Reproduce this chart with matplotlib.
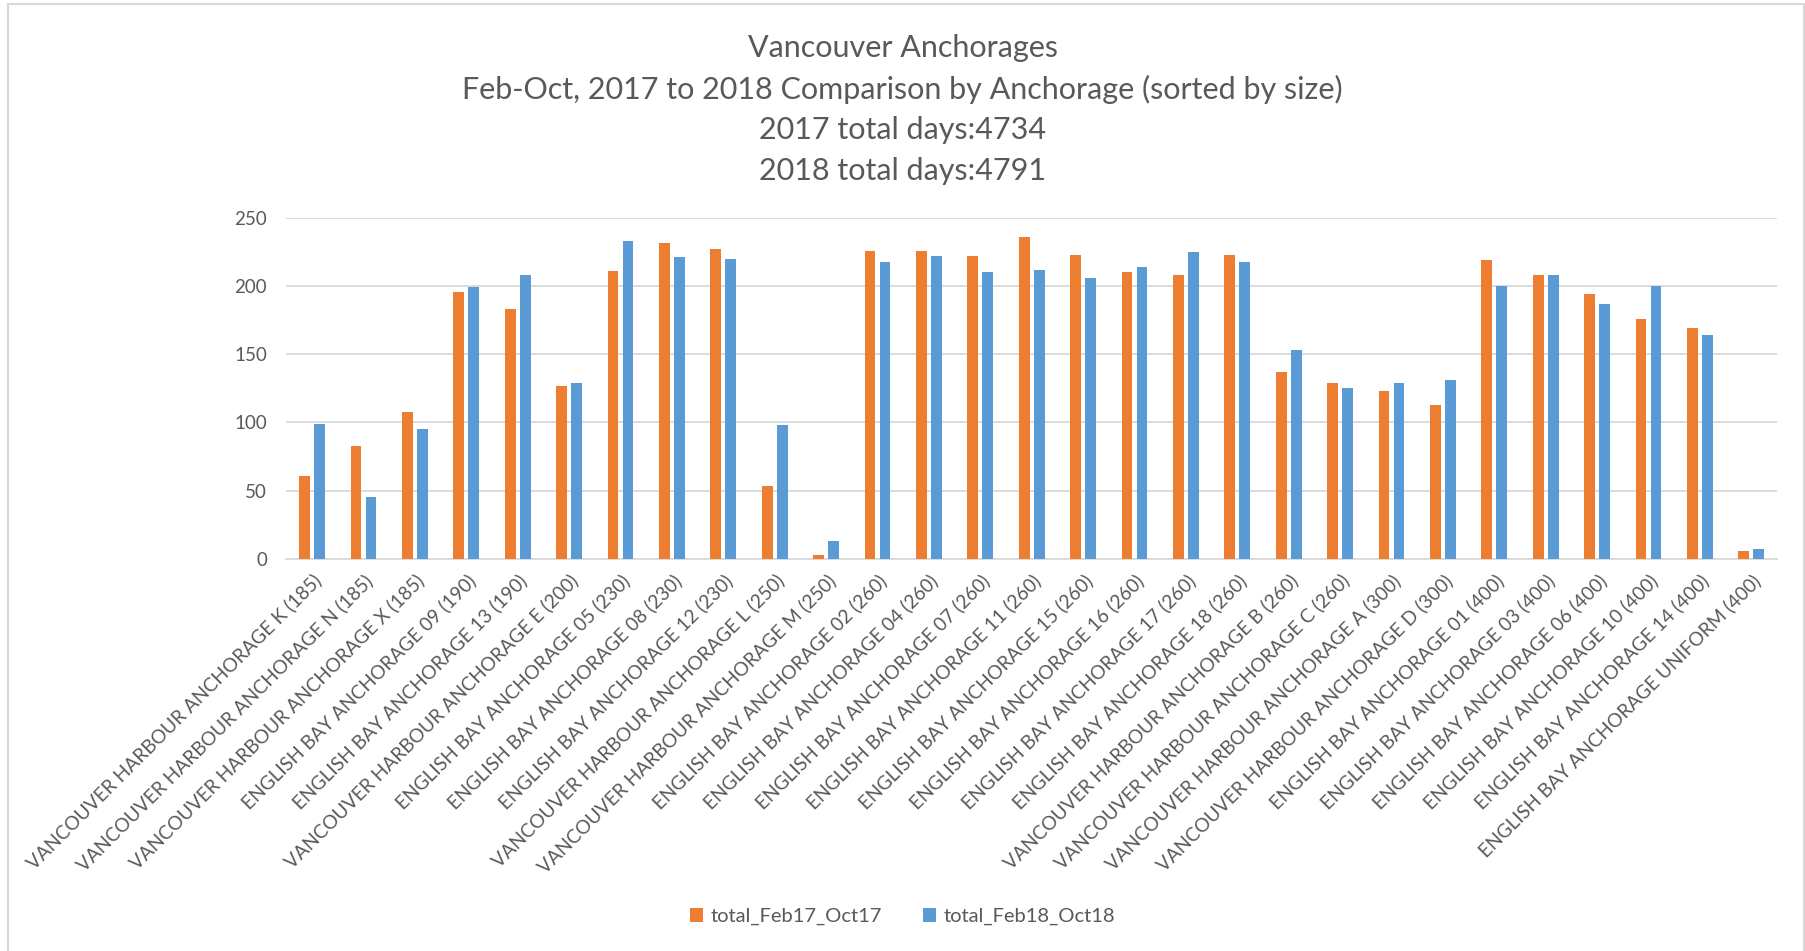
import matplotlib.pyplot as plt
import matplotlib.patches as mpatches
import numpy as np

plt.rcParams['font.family'] = ['Lato', 'DejaVu Sans']

anchorages = [
    "VANCOUVER HARBOUR ANCHORAGE K (185)", "VANCOUVER HARBOUR ANCHORAGE N (185)",
    "VANCOUVER HARBOUR ANCHORAGE X (185)", "ENGLISH BAY ANCHORAGE 09 (190)",
    "ENGLISH BAY ANCHORAGE 13 (190)", "VANCOUVER HARBOUR ANCHORAGE E (200)",
    "ENGLISH BAY ANCHORAGE 05 (230)", "ENGLISH BAY ANCHORAGE 08 (230)",
    "ENGLISH BAY ANCHORAGE 12 (230)", "VANCOUVER HARBOUR ANCHORAGE L (250)",
    "VANCOUVER HARBOUR ANCHORAGE M (250)", "ENGLISH BAY ANCHORAGE 02 (260)",
    "ENGLISH BAY ANCHORAGE 04 (260)", "ENGLISH BAY ANCHORAGE 07 (260)",
    "ENGLISH BAY ANCHORAGE 11 (260)", "ENGLISH BAY ANCHORAGE 15 (260)",
    "ENGLISH BAY ANCHORAGE 16 (260)", "ENGLISH BAY ANCHORAGE 17 (260)",
    "ENGLISH BAY ANCHORAGE 18 (260)", "VANCOUVER HARBOUR ANCHORAGE B (260)",
    "VANCOUVER HARBOUR ANCHORAGE C (260)", "VANCOUVER HARBOUR ANCHORAGE A (300)",
    "VANCOUVER HARBOUR ANCHORAGE D (300)", "ENGLISH BAY ANCHORAGE 01 (400)",
    "ENGLISH BAY ANCHORAGE 03 (400)", "ENGLISH BAY ANCHORAGE 06 (400)",
    "ENGLISH BAY ANCHORAGE 10 (400)", "ENGLISH BAY ANCHORAGE 14 (400)",
    "ENGLISH BAY ANCHORAGE UNIFORM (400)",
]
total_17 = [61, 83, 108, 196, 183, 127, 211, 232, 227, 53,
            3, 226, 226, 222, 236, 223, 210, 208, 223, 137,
            129, 123, 113, 219, 208, 194, 176, 169, 6]
total_18 = [99, 45, 95, 199, 208, 129, 233, 221, 220, 98,
            13, 218, 222, 210, 212, 206, 214, 225, 218, 153,
            125, 129, 131, 200, 208, 187, 200, 164, 7]

title_lines = ["Vancouver Anchorages",
               "Feb-Oct, 2017 to 2018 Comparison by Anchorage (sorted by size)",
               "2017 total days:4734",
               "2018 total days:4791"]

grey = "#595959"
orange = "#ED7D31"
blue = "#5B9BD5"

fig = plt.figure(figsize=(18.05, 9.51), dpi=100)
ax = fig.add_axes([0.1587, 0.4125, 0.8258, 0.3583])

x = np.arange(len(anchorages))
w = 0.21
ax.bar(x - 0.146, total_17, w, color=orange, label="total_Feb17_Oct17", zorder=3)
ax.bar(x + 0.146, total_18, w, color=blue, label="total_Feb18_Oct18", zorder=3)

ax.set_xlim(-0.5, len(anchorages) - 0.5)
ax.set_ylim(0, 250)
ax.set_yticks([0, 50, 100, 150, 200, 250])
ax.yaxis.grid(True, color="#d9d9d9", lw=1.3, zorder=0)
for s in ["top", "right", "left"]:
    ax.spines[s].set_visible(False)
ax.spines["bottom"].set_color("#d9d9d9")
ax.spines["bottom"].set_linewidth(1.3)
ax.tick_params(axis="both", length=0, colors=grey, labelsize=13.5)
ax.tick_params(axis="y", pad=14)
ax.tick_params(axis="x", pad=9)
ax.set_xticks(x)
ax.set_xticklabels(anchorages, rotation=45, ha="right", va="top",
                   rotation_mode="anchor", fontsize=13.8, color=grey)

ys = [0.950, 0.906, 0.863, 0.820]
for t, yy in zip(title_lines, ys):
    fig.text(0.5, yy, t, ha="center", va="center", fontsize=22, color=grey)

fig.legend(loc="center", bbox_to_anchor=(0.5, 0.036), ncol=2, frameon=False,
           fontsize=14.5, labelcolor=grey, handlelength=0.65, handleheight=0.65,
           columnspacing=2.0, handletextpad=0.4)

fig.patches.append(mpatches.Rectangle((8 / 1805, -0.01), 1796 / 1805, 1 - 4 / 951 + 0.01,
                                      transform=fig.transFigure, fill=False,
                                      edgecolor="#d9d9d9", lw=1.5))

fig.savefig("out.png", dpi=100)
